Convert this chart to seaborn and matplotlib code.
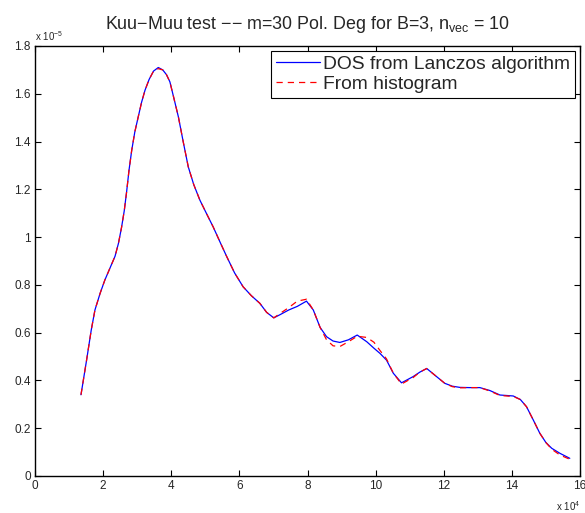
import matplotlib
matplotlib.use("Agg")
import matplotlib.pyplot as plt
import seaborn as sns
import numpy as np
from matplotlib.ticker import FixedLocator, FuncFormatter

# ---- data (x in units of 1e4, DOS in units of 1e-6) ----
x_e4 = [1.35, 1.52, 1.65, 1.76, 1.91, 2.05, 2.20, 2.35, 2.45, 2.54, 2.62, 2.69,
        2.76, 2.84, 2.93, 3.03, 3.13, 3.23, 3.35, 3.48, 3.62, 3.75, 3.86, 3.96,
        4.08, 4.21, 4.35, 4.50, 4.66, 4.84, 5.03, 5.23, 5.43, 5.63, 5.86, 6.11,
        6.35, 6.60, 6.80, 7.01, 7.19, 7.45, 7.70, 7.97, 8.17, 8.37, 8.56, 8.75,
        8.95, 9.20, 9.46, 9.74, 9.95, 10.13, 10.32, 10.52, 10.76, 11.10, 11.30,
        11.50, 11.79, 12.03, 12.25, 12.47, 12.75, 13.06, 13.35, 13.65, 14.04,
        14.25, 14.43, 14.63, 14.82, 15.00, 15.17, 15.41, 15.70]

dos_lanczos_e6 = [3.40, 4.90, 6.10, 6.95, 7.64, 8.20, 8.70, 9.20, 9.74, 10.40,
                  11.10, 11.90, 12.80, 13.64, 14.40, 15.03, 15.65, 16.15, 16.60,
                  16.95, 17.10, 17.00, 16.80, 16.50, 15.80, 15.03, 14.00, 12.94,
                  12.20, 11.55, 11.00, 10.43, 9.80, 9.18, 8.50, 7.92, 7.55, 7.23,
                  6.85, 6.62, 6.75, 6.95, 7.10, 7.32, 6.95, 6.22, 5.83, 5.65, 5.59,
                  5.70, 5.90, 5.62, 5.35, 5.13, 4.85, 4.30, 3.90, 4.16, 4.35, 4.50,
                  4.16, 3.88, 3.76, 3.71, 3.70, 3.70, 3.58, 3.39, 3.35, 3.20, 2.90,
                  2.34, 1.79, 1.40, 1.16, 0.95, 0.74]

dos_hist_e6 = [3.40, 4.90, 6.10, 6.95, 7.64, 8.20, 8.70, 9.20, 9.74, 10.40,
               11.10, 11.90, 12.80, 13.64, 14.40, 15.03, 15.65, 16.15, 16.60,
               16.95, 17.05, 17.00, 16.80, 16.50, 15.80, 15.03, 14.00, 12.94,
               12.20, 11.55, 11.00, 10.43, 9.80, 9.18, 8.50, 7.92, 7.55, 7.23,
               6.85, 6.62, 6.80, 7.05, 7.32, 7.40, 6.95, 6.22, 5.70, 5.45, 5.42,
               5.62, 5.85, 5.80, 5.60, 5.25, 4.90, 4.30, 3.85, 4.12, 4.35, 4.50,
               4.16, 3.88, 3.74, 3.69, 3.70, 3.70, 3.56, 3.37, 3.33, 3.20, 2.90,
               2.34, 1.79, 1.40, 1.12, 0.88, 0.70]

x_ticks_e4 = [0, 2, 4, 6, 8, 10, 12, 14, 16]
y_ticks_e5 = [0, 0.2, 0.4, 0.6, 0.8, 1.0, 1.2, 1.4, 1.6, 1.8]

legend_labels = ["DOS from Lanczos algorithm", "From histogram"]
title_text = r"Kuu$-$Muu test $-$$-$ m=30 Pol. Deg for B=3, n$_{\mathrm{vec}}$ = 10"

# ---- style ----
sns.set_style("white")
plt.rcParams["font.family"] = ["Liberation Sans", "DejaVu Sans"]
plt.rcParams["mathtext.fontset"] = "custom"
plt.rcParams["mathtext.rm"] = "Liberation Sans"
plt.rcParams["mathtext.it"] = "Liberation Sans:italic"
plt.rcParams["mathtext.bf"] = "Liberation Sans:bold"

fig = plt.figure(figsize=(5.85, 5.13), dpi=100)
ax = fig.add_axes([35 / 585, 1 - 476 / 513, 545 / 585, 430 / 513])

x = np.array(x_e4) * 1e4
y1 = np.array(dos_lanczos_e6) * 1e-6
y2 = np.array(dos_hist_e6) * 1e-6

sns.lineplot(x=x, y=y1, color="#0000ff", lw=0.9, sort=False,
             label=legend_labels[0], ax=ax)
sns.lineplot(x=x, y=y2, color="#ff0000", lw=0.9, sort=False,
             linestyle=(0, (5, 4)), label=legend_labels[1], ax=ax)

ax.set_xlim(0, 16e4)
ax.set_ylim(0, 1.8e-5)
ax.xaxis.set_major_locator(FixedLocator([v * 1e4 for v in x_ticks_e4]))
ax.yaxis.set_major_locator(FixedLocator([v * 1e-5 for v in y_ticks_e5]))
ax.xaxis.set_major_formatter(FuncFormatter(lambda v, p: "%g" % round(v / 1e4, 3)))
ax.yaxis.set_major_formatter(FuncFormatter(lambda v, p: "%g" % round(v / 1e-5, 3)))
ax.tick_params(direction="in", length=4, width=0.8, color="black",
               labelsize=8.5, top=True, right=True, bottom=True, left=True,
               labeltop=False, labelright=False, pad=3)
for s in ax.spines.values():
    s.set_color("black")
    s.set_linewidth(1.0)
ax.set_xlabel("")
ax.set_ylabel("")

ax.text(0.0, 1.008, r"x 10$^{-5}$", transform=ax.transAxes, fontsize=7,
        ha="left", va="bottom")
ax.text(1.0, -0.055, r"x 10$^{4}$", transform=ax.transAxes, fontsize=7,
        ha="right", va="top")

ax.set_title(title_text, fontsize=12.9, pad=12)

leg = ax.legend(loc="upper right", fontsize=13.9, frameon=True, fancybox=False,
                edgecolor="black", framealpha=1, borderaxespad=0.25,
                handlelength=2.3, handletextpad=0.15, borderpad=0.25,
                labelspacing=0.12)
leg.get_frame().set_linewidth(0.8)

fig.savefig("out.png", dpi=100)
